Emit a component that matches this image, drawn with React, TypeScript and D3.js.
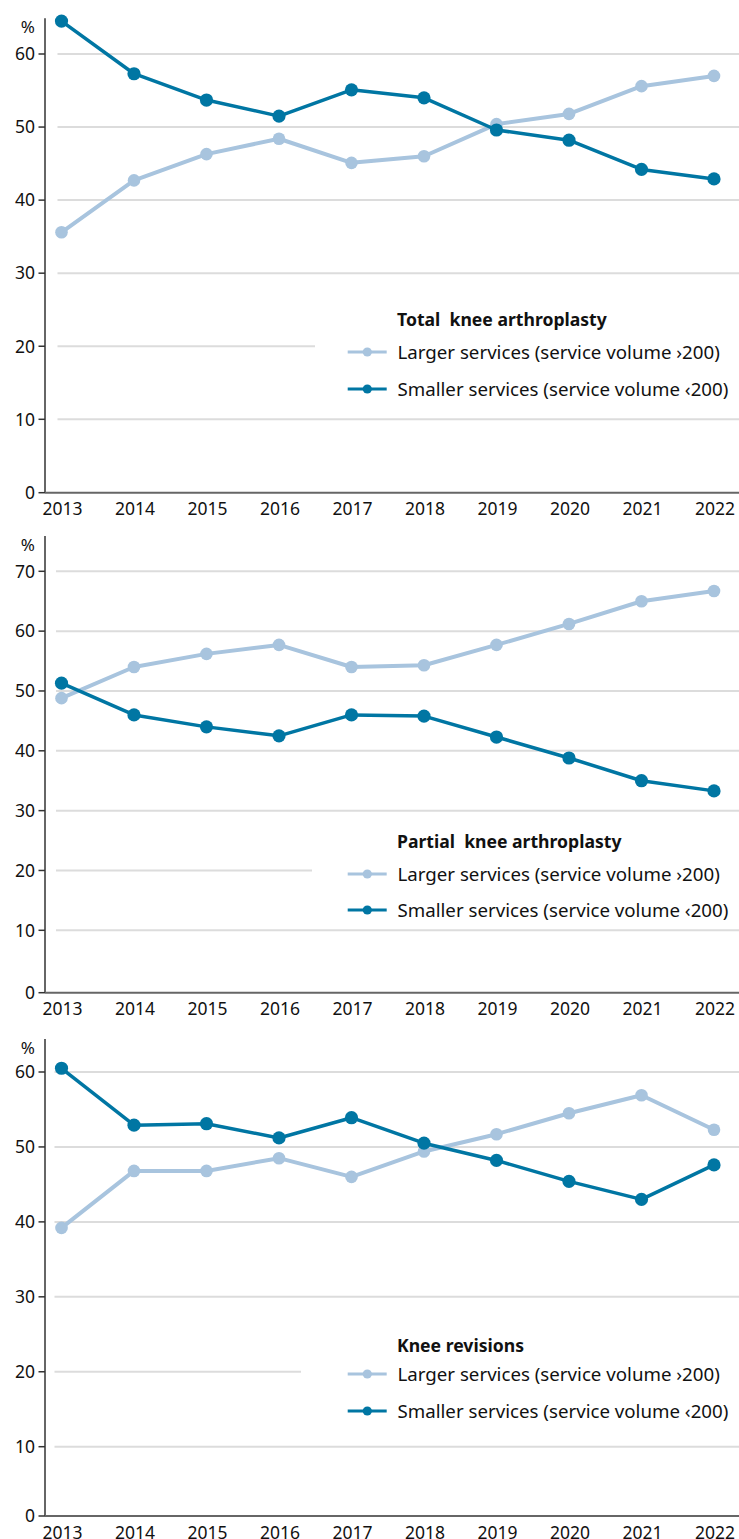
import React, { useEffect, useRef } from 'react';
import * as d3 from 'd3';

const years = ['2013', '2014', '2015', '2016', '2017', '2018', '2019', '2020', '2021', '2022'];

const seriesNames = ['Larger services (service volume ›200)', 'Smaller services (service volume ‹200)'];

// Total knee arthroplasty
const tkaLarger = [35.6, 42.7, 46.3, 48.4, 45.1, 46.0, 50.4, 51.8, 55.6, 57.0];
const tkaSmaller = [64.5, 57.3, 53.7, 51.5, 55.1, 54.0, 49.6, 48.2, 44.2, 42.9];

// Partial knee arthroplasty
const pkaLarger = [48.8, 54.0, 56.2, 57.7, 54.0, 54.3, 57.7, 61.2, 65.0, 66.7];
const pkaSmaller = [51.3, 46.0, 44.0, 42.5, 46.0, 45.8, 42.3, 38.8, 35.0, 33.3];

// Knee revisions
const revLarger = [39.2, 46.8, 46.8, 48.5, 46.0, 49.4, 51.7, 54.5, 56.9, 52.3];
const revSmaller = [60.5, 52.9, 53.1, 51.2, 53.9, 50.5, 48.2, 45.4, 43.0, 47.6];

const panelTitles = ['Total  knee arthroplasty', 'Partial  knee arthroplasty', 'Knee revisions'];
const panelTicks = [
  [0, 10, 20, 30, 40, 50, 60],
  [0, 10, 20, 30, 40, 50, 60, 70],
  [0, 10, 20, 30, 40, 50, 60],
];
const panelMax = [64.9, 75.9, 64.4];

const LIGHT = '#a8c4de';
const DARK = '#0076a3';
const FONT = '"Noto Sans", "Open Sans", sans-serif';

// layout per panel: y of 0, 10 and top tick; legend anchors
const layouts = [
  { y0: 492.7, y10: 419.3, topVal: 60, yTop: 54, legTitle: 326, leg1: 352, leg2: 389, gapX: 315, gridX: 57.5 },
  { y0: 992.7, y10: 930.3, topVal: 70, yTop: 571.3, legTitle: 848, leg1: 874, leg2: 910, gapX: 312, gridX: 56 },
  { y0: 1516, y10: 1446.7, topVal: 60, yTop: 1072, legTitle: 1351.5, leg1: 1374, leg2: 1411, gapX: 301, gridX: 54.5 },
];

const W = 739;
const H = 1539;

const App: React.FC = () => {
  const svgRef = useRef<SVGSVGElement>(null);

  useEffect(() => {
    if (!svgRef.current) return;
    const svg = d3.select(svgRef.current);
    svg.selectAll('*').remove();

    const x = d3.scalePoint<string>().domain(years).range([61.5, 714]);
    const axisX = 45;

    const data = [
      [tkaLarger, tkaSmaller],
      [pkaLarger, pkaSmaller],
      [revLarger, revSmaller],
    ];

    layouts.forEach((L, pi) => {
      const ticks = panelTicks[pi];
      const unit = (L.y10 - L.yTop) / (L.topVal - 10);
      const y = d3.scaleLinear()
        .domain([0, 10, panelMax[pi]])
        .range([L.y0, L.y10, L.y10 - (panelMax[pi] - 10) * unit]);

      const g = svg.append('g');

      // gridlines
      g.selectAll('line.grid')
        .data(ticks.filter(t => t > 0))
        .enter()
        .append('line')
        .attr('x1', L.gridX)
        .attr('x2', W)
        .attr('y1', d => y(d))
        .attr('y2', d => y(d))
        .attr('stroke', '#dcdcdc')
        .attr('stroke-width', 2);

      // legend background (cuts the 20 gridline)
      g.append('rect')
        .attr('x', L.gapX)
        .attr('y', L.legTitle - 22)
        .attr('width', W - L.gapX)
        .attr('height', L.leg2 - L.legTitle + 34)
        .attr('fill', '#fff');

      // y axis
      g.append('line')
        .attr('x1', axisX).attr('x2', axisX)
        .attr('y1', y(panelMax[pi])).attr('y2', L.y0)
        .attr('stroke', '#333').attr('stroke-width', 1.5);

      g.selectAll('line.tick')
        .data(ticks)
        .enter()
        .append('line')
        .attr('x1', 38.5).attr('x2', axisX)
        .attr('y1', d => y(d)).attr('y2', d => y(d))
        .attr('stroke', '#333').attr('stroke-width', 1.5);

      g.selectAll('text.ytick')
        .data(ticks)
        .enter()
        .append('text')
        .attr('x', 35)
        .attr('y', d => y(d) + 6.3)
        .attr('text-anchor', 'end')
        .attr('font-family', FONT)
        .attr('font-size', 17.5)
        .attr('fill', '#111')
        .text(d => String(d));

      g.append('text')
        .attr('x', 35)
        .attr('y', y(panelMax[pi]) + 15)
        .attr('text-anchor', 'end')
        .attr('font-family', FONT)
        .attr('font-size', 17)
        .attr('fill', '#111')
        .text('%');

      // x axis
      g.append('line')
        .attr('x1', axisX).attr('x2', W)
        .attr('y1', L.y0).attr('y2', L.y0)
        .attr('stroke', '#666').attr('stroke-width', 2);

      g.selectAll('text.xtick')
        .data(years)
        .enter()
        .append('text')
        .attr('x', d => (x(d) || 0) + 1)
        .attr('y', L.y0 + 22.5)
        .attr('text-anchor', 'middle')
        .attr('font-family', FONT)
        .attr('font-size', 17.5)
        .attr('fill', '#111')
        .text(d => d);

      // series
      const colors = [LIGHT, DARK];
      data[pi].forEach((vals, si) => {
        const line = d3.line<number>()
          .x((_, i) => x(years[i]) || 0)
          .y(v => y(v));
        g.append('path')
          .attr('d', line(vals) || '')
          .attr('fill', 'none')
          .attr('stroke', colors[si])
          .attr('stroke-width', si === 0 ? 4 : 3.5)
          .attr('stroke-linejoin', 'round');
        g.selectAll(`circle.s${si}`)
          .data(vals)
          .enter()
          .append('circle')
          .attr('cx', (_, i) => x(years[i]) || 0)
          .attr('cy', v => y(v))
          .attr('r', si === 0 ? 6.3 : 6.6)
          .attr('fill', colors[si]);
      });

      // legend
      g.append('text')
        .attr('x', 397)
        .attr('y', L.legTitle)
        .attr('font-family', FONT)
        .attr('font-weight', 'bold')
        .attr('font-size', 17.6)
        .attr('fill', '#111')
        .attr('xml:space', 'preserve')
        .style('white-space', 'pre')
        .text(panelTitles[pi]);

      [L.leg1, L.leg2].forEach((ly, si) => {
        g.append('line')
          .attr('x1', 347.7).attr('x2', 386.7)
          .attr('y1', ly).attr('y2', ly)
          .attr('stroke', colors[si]).attr('stroke-width', 3);
        g.append('circle')
          .attr('cx', 367.3).attr('cy', ly).attr('r', 4.6)
          .attr('fill', colors[si]);
        g.append('text')
          .attr('x', 397.5)
          .attr('y', ly + 6.5)
          .attr('font-family', FONT)
          .attr('font-size', 18.7)
          .attr('fill', '#111')
          .text(seriesNames[si]);
      });
    });
  }, []);

  return (
    <div style={{ position: 'absolute', left: 0, top: 0, width: W, height: H, background: '#fff' }}>
      <svg ref={svgRef} width={W} height={H} style={{ display: 'block' }} />
    </div>
  );
};

export default App;
